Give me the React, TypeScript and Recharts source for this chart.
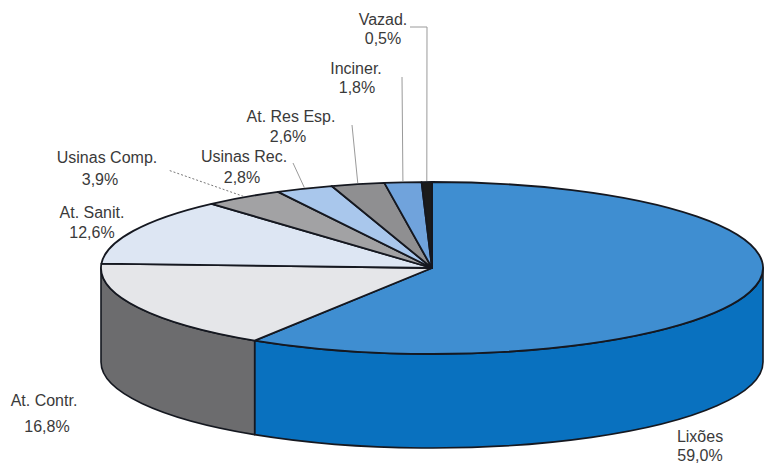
import React from 'react';
import { PieChart, Pie, Cell } from 'recharts';

// ---- data ----
const categories = ['Lixões', 'At. Contr.', 'At. Sanit.', 'Usinas Comp.', 'Usinas Rec.', 'At. Res Esp.', 'Inciner.', 'Vazad.'];
const shares = [59.0, 16.8, 12.6, 3.9, 2.8, 2.6, 1.8, 0.5];
const shareLabels = ['59,0%', '16,8%', '12,6%', '3,9%', '2,8%', '2,6%', '1,8%', '0,5%'];

// ---- styles ----
const topColors = ['#3f8ed1', '#e5e6e9', '#dde6f3', '#a2a2a4', '#a9c7ec', '#8f8f91', '#70a3dc', '#1b1b1b'];
const sideColors = ['#0971bf', '#6c6c6e', '#a7b6cc', '#6f6f70', '#7d9cc6', '#5e5e60', '#4d7fbf', '#111111'];

const data = categories.map((name, i) => ({ name, value: shares[i], pct: shareLabels[i] }));

// ---- layout ----
const CX = 432;
const CY = 268;
const RADIUS = 331;
const TILT = 86 / 331;
const DEPTH = 94;
const STROKE = '#151820';

type LabelLayout = { x: number; y1: number; y2: number; x2?: number; leader?: number[][]; dotted?: boolean };
const LABEL_LAYOUT: LabelLayout[] = [
  { x: 700, y1: 442, y2: 461 },
  { x: 44, y1: 406, y2: 432, x2: 47 },
  { x: 92, y1: 218, y2: 238 },
  { x: 107, y1: 163, y2: 185, x2: 100, leader: [[168, 170]], dotted: true },
  { x: 244, y1: 162, y2: 183, x2: 242, leader: [[293, 163]] },
  { x: 291, y1: 122, y2: 142, x2: 288, leader: [[352, 125]] },
  { x: 356, y1: 74, y2: 93, x2: 357, leader: [[402, 77]] },
  { x: 383, y1: 25, y2: 44, leader: [[427, 27], [410, 27]] },
];

const RAD = Math.PI / 180;
const pt = (cx: number, cy: number, r: number, a: number, dy = 0): [number, number] => [
  cx + r * Math.cos(a * RAD),
  cy - r * TILT * Math.sin(a * RAD) + dy,
];

function Slice3D(props: any) {
  const { cx, cy, outerRadius: r, startAngle, endAngle, index } = props;
  const ry = r * TILT;
  const s = startAngle;
  const e = endAngle;
  const [x1, y1] = pt(cx, cy, r, s);
  const [x2, y2] = pt(cx, cy, r, e);
  const large = Math.abs(s - e) > 180 ? 1 : 0;
  const sweep = s > e ? 1 : 0;
  const top = `M${cx},${cy} L${x1},${y1} A${r},${ry} 0 ${large} ${sweep} ${x2},${y2} Z`;
  const hi = Math.max(s, e);
  const lo = Math.min(s, e);
  const sides: string[] = [];
  for (const k of [-1, 0, 1]) {
    const a1 = Math.min(hi, 360 * k);
    const a2 = Math.max(lo, -180 + 360 * k);
    if (a1 > a2) {
      const [p1x, p1y] = pt(cx, cy, r, a1);
      const [p2x, p2y] = pt(cx, cy, r, a2);
      sides.push(
        `M${p1x},${p1y} A${r},${ry} 0 0 1 ${p2x},${p2y} L${p2x},${p2y + DEPTH} A${r},${ry} 0 0 0 ${p1x},${p1y + DEPTH} Z`
      );
    }
  }
  const i = index ?? 0;
  return (
    <g>
      {sides.map((d, j) => (
        <path key={j} d={d} fill={sideColors[i]} stroke={STROKE} strokeWidth={1.6} strokeLinejoin="round" />
      ))}
      <path d={top} fill={topColors[i]} stroke={STROKE} strokeWidth={1.8} strokeLinejoin="round" />
    </g>
  );
}

function renderLabel(props: any) {
  const { cx, cy, outerRadius, midAngle, index, payload } = props;
  const lay = LABEL_LAYOUT[index];
  const name = payload?.name ?? categories[index];
  const pct = payload?.pct ?? shareLabels[index];
  let leader: React.ReactNode = null;
  if (lay.leader) {
    const [sx, sy] = pt(cx, cy, outerRadius, midAngle);
    const pts = [[sx, sy - 1], ...lay.leader].map((p) => p.join(',')).join(' ');
    leader = (
      <polyline
        points={pts}
        fill="none"
        stroke={lay.dotted ? '#777' : '#9a9a9a'}
        strokeWidth={1}
        strokeDasharray={lay.dotted ? '2 2' : undefined}
      />
    );
  }
  return (
    <g key={`lab-${index}`}>
      {leader}
      <text x={lay.x} y={lay.y1} textAnchor="middle" fontFamily="'Liberation Sans', Arial, sans-serif" fontSize={16} fill="#3a3a3a">
        {name}
      </text>
      <text x={lay.x2 ?? lay.x} y={lay.y2} textAnchor="middle" fontFamily="'Liberation Sans', Arial, sans-serif" fontSize={16} fill="#3a3a3a">
        {pct}
      </text>
    </g>
  );
}

export default function App() {
  return (
    <div style={{ position: 'absolute', left: 0, top: 0, width: 764, height: 465, background: '#fff' }}>
      <PieChart width={764} height={465} margin={{ top: 0, right: 0, bottom: 0, left: 0 }}>
        <Pie
          data={data}
          dataKey="value"
          nameKey="name"
          cx={CX}
          cy={CY}
          innerRadius={0}
          outerRadius={RADIUS}
          startAngle={90}
          endAngle={-270}
          isAnimationActive={false}
          shape={Slice3D}
          activeShape={Slice3D}
          inactiveShape={Slice3D}
          label={renderLabel}
          labelLine={false}
          stroke="none"
        >
          {data.map((d, i) => (
            <Cell key={d.name} fill={topColors[i]} />
          ))}
        </Pie>
      </PieChart>
    </div>
  );
}
